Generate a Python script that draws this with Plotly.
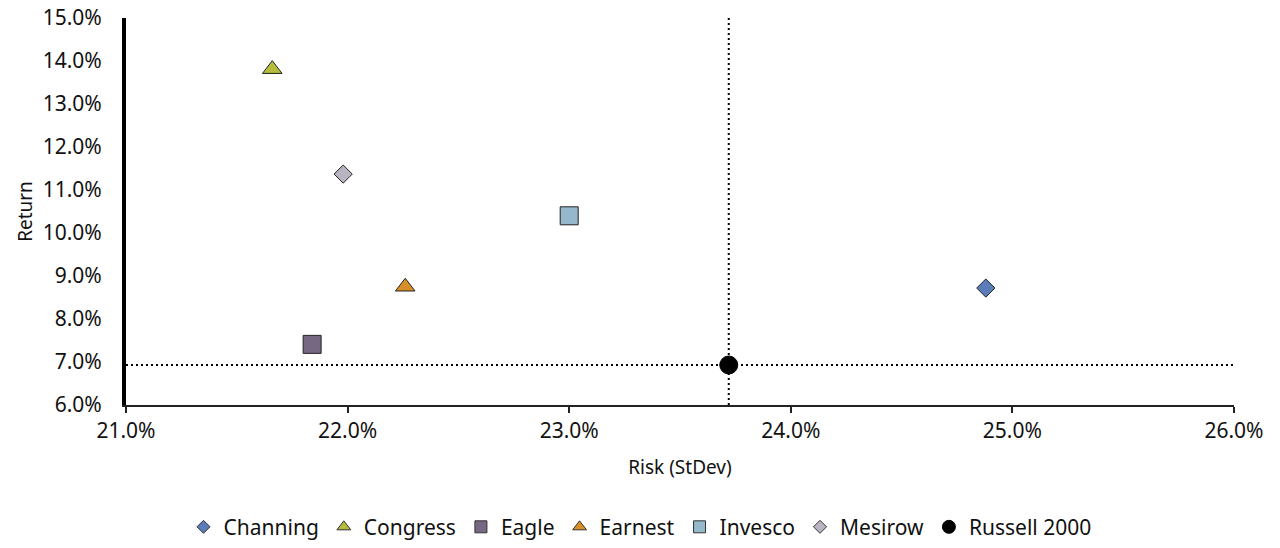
import plotly.graph_objects as go

names = ["Channing", "Congress", "Eagle", "Earnest", "Invesco", "Mesirow", "Russell 2000"]
risk = [24.88, 21.66, 21.84, 22.26, 23.00, 21.98, 23.72]
ret = [8.72, 13.81, 7.41, 8.75, 10.40, 11.37, 6.93]
colors = ["#5a7dba", "#b6bd3c", "#766782", "#d98f27", "#95b8cc", "#bab3c1", "#000000"]
symbols = ["diamond", "triangle-up", "square", "triangle-up", "square", "diamond", "circle"]
sizes = [14, 17, 18, 17, 18, 14, 18]
legend_sizes = [10, 12, 12, 12, 12, 10, 13]

x_ticks = [21, 22, 23, 24, 25, 26]
y_ticks = [6, 7, 8, 9, 10, 11, 12, 13, 14, 15]

FONT = "Noto Sans"
fig = go.Figure()

bench_x = risk[-1]
bench_y = ret[-1]
dot = dict(color="black", width=2, dash="2px,3px")
fig.add_shape(type="line", xref="x", yref="y", x0=x_ticks[0], x1=x_ticks[-1], y0=bench_y, y1=bench_y,
              line=dot, layer="below")
fig.add_shape(type="line", xref="x", yref="y", x0=bench_x, x1=bench_x, y0=y_ticks[0], y1=y_ticks[-1],
              line=dot, layer="below")

for n, x, y, c, s, sz in zip(names, risk, ret, colors, symbols, sizes):
    fig.add_trace(go.Scatter(
        x=[x], y=[y], mode="markers", name=n, showlegend=False,
        marker=dict(color=c, symbol=s, size=sz,
                    line=dict(color="#222222" if n != "Russell 2000" else "black", width=1)),
    ))

for n, c, s, sz in zip(names, colors, symbols, legend_sizes):
    fig.add_trace(go.Scatter(
        x=[None], y=[None], mode="markers", name=n, showlegend=True,
        marker=dict(color=c, symbol=s, size=sz,
                    line=dict(color="#333333" if n != "Russell 2000" else "black", width=1)),
    ))

fig.update_layout(
    width=1280, height=548,
    margin=dict(l=126, r=46, t=18, b=143, autoexpand=False),
    paper_bgcolor="white", plot_bgcolor="white",
    font=dict(family=FONT, size=20, color="#111111"),
    showlegend=True,
    legend=dict(orientation="h", xref="container", x=0.5, xanchor="center",
                yref="container", y=0.038, yanchor="middle",
                font=dict(family=FONT, size=21, color="#111111"),
                itemwidth=30, tracegroupgap=0, itemsizing="trace"),
    xaxis=dict(range=[x_ticks[0], x_ticks[-1]], tickvals=x_ticks,
               ticktext=[f"{v:.1f}%" for v in x_ticks],
               showgrid=False, zeroline=False, showline=True, linecolor="#222222", linewidth=1.5,
               ticks="outside", ticklen=6, tickcolor="#222222", tickwidth=1.5, automargin=False,
               ticklabeloverflow="allow",
               title=dict(text="Risk (StDev)", font=dict(family=FONT, size=19), standoff=18),
               tickfont=dict(family=FONT, size=21)),
    yaxis=dict(range=[y_ticks[0], y_ticks[-1]], tickvals=y_ticks,
               ticktext=[f"{v:.1f}%" for v in y_ticks],
               showgrid=False, zeroline=False, showline=True, linecolor="black", linewidth=4,
               ticks="outside", ticklen=16, tickcolor="rgba(0,0,0,0)", automargin=False,
               ticklabeloverflow="allow",
               title=dict(text="Return", font=dict(family=FONT, size=19), standoff=6),
               tickfont=dict(family=FONT, size=21)),
)

fig.write_html("out.html", config={"displayModeBar": False},
               post_script="document.body.style.margin='0px';")
